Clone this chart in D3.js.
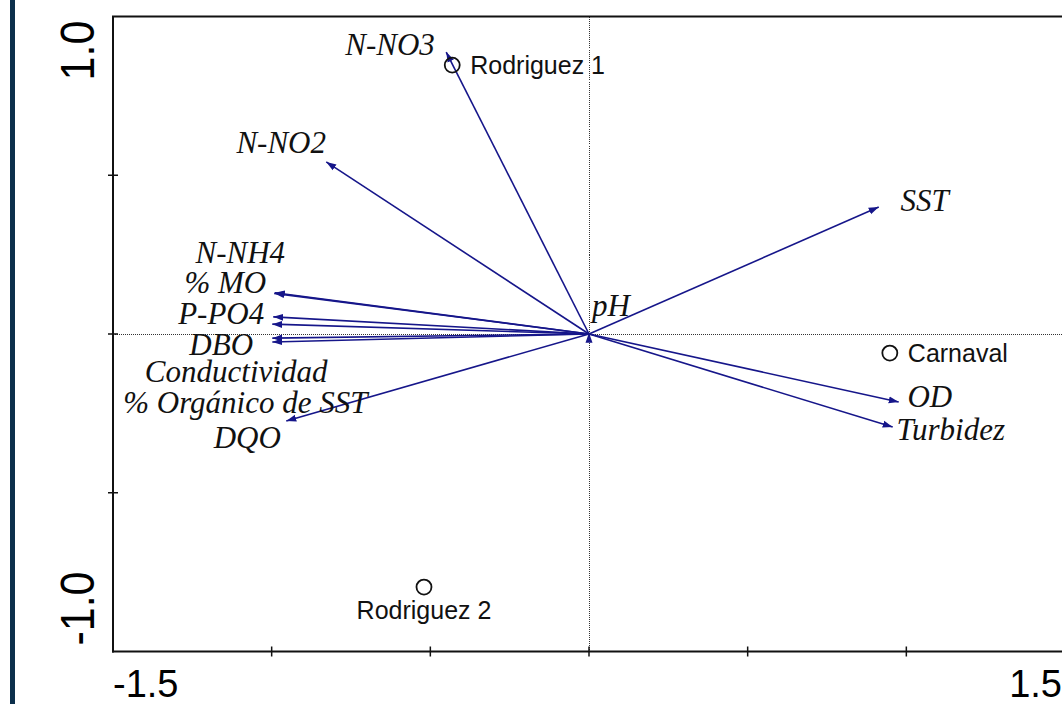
<!DOCTYPE html>
<html>
<head>
<meta charset="utf-8">
<script src="https://cdn.jsdelivr.net/npm/d3@7"></script>
<style>
  html, body { margin: 0; padding: 0; background: #fff; }
  svg { display: block; }
</style>
</head>
<body>
<svg id="chart" width="1062" height="704"></svg>
<script>
// ---- Data (biplot coordinates) ----
const variables = ["N-NO3", "N-NO2", "SST", "pH", "N-NH4", "% MO", "P-PO4", "DBO",
  "Conductividad", "% Orgánico de SST", "DQO", "OD", "Turbidez"];
const varAxis1 = [-0.450, -0.828, 0.913, 0.000, -0.990, -0.992, -0.995, -0.998,
  -0.998, -0.998, -0.954, 0.976, 0.957];
const varAxis2 = [0.888, 0.542, 0.400, 0.004, 0.130, 0.128, 0.054, 0.031,
  -0.013, -0.025, -0.274, -0.214, -0.293];
// label anchor points (data units)
const labelAxis1 = [-0.627, -0.970, 1.058, 0.069, -1.099, -1.146, -1.159, -1.159,
  -1.112, -1.083, -1.077, 1.074, 1.140];
const labelAxis2 = [0.879, 0.570, 0.387, 0.057, 0.224, 0.129, 0.031, -0.066,
  -0.151, -0.249, -0.359, -0.230, -0.334];

const sites = ["Rodriguez 1", "Carnaval", "Rodriguez 2"];
const siteAxis1 = [-0.431, 0.948, -0.520];
const siteAxis2 = [0.847, -0.060, -0.797];
const siteLabelSide = ["right", "right", "below"];

const xTicks = [-1.5, -1.0, -0.5, 0, 0.5, 1.0, 1.5];
const yTicks = [-1.0, -0.5, 0, 0.5, 1.0];
const xTickLabels = ["-1.5", "1.5"];
const yTickLabels = ["1.0", "-1.0"];

// ---- Layout ----
const svg = d3.select("#chart");
const x = d3.scaleLinear().domain([-1.5, 1.5]).range([113, 1065]);
const y = d3.scaleLinear().domain([-1.0, 1.0]).range([651.5, 16.5]);
const arrowColor = "#16168a";

// left decorative bar
svg.append("rect").attr("x", 10).attr("y", 0).attr("width", 5).attr("height", 704)
  .attr("fill", "#0c2f4b");

// dotted zero lines
const zx = Math.round(x(0)) + 0.5, zy = Math.round(y(0)) + 0.5;
svg.append("line").attr("x1", zx).attr("x2", zx).attr("y1", y(1)).attr("y2", y(-1))
  .attr("stroke", "#333").attr("stroke-width", 1).attr("stroke-dasharray", "1,1")
  .attr("shape-rendering", "crispEdges");
svg.append("line").attr("x1", x(-1.5)).attr("x2", x(1.5)).attr("y1", zy).attr("y2", zy)
  .attr("stroke", "#333").attr("stroke-width", 1).attr("stroke-dasharray", "1,1")
  .attr("shape-rendering", "crispEdges");

// frame lines (left, top, bottom)
const frame = svg.append("g").attr("stroke", "#111").attr("stroke-width", 2);
frame.append("line").attr("x1", x(-1.5)).attr("x2", x(-1.5)).attr("y1", y(1)).attr("y2", y(-1) + 1);
frame.append("line").attr("x1", x(-1.5) - 1).attr("x2", x(1.5)).attr("y1", y(1)).attr("y2", y(1));
frame.append("line").attr("x1", x(-1.5) - 1).attr("x2", x(1.5)).attr("y1", y(-1)).attr("y2", y(-1));

// ticks crossing the axes
const tickG = svg.append("g").attr("stroke", "#111").attr("stroke-width", 1.5);
tickG.selectAll(".xt").data(xTicks.filter(d => d > -1.5 && d < 1.5)).join("line")
  .attr("x1", d => x(d)).attr("x2", d => x(d))
  .attr("y1", y(-1) - 5).attr("y2", y(-1) + 5);
tickG.selectAll(".yt").data(yTicks.filter(d => d > -1 && d < 1)).join("line")
  .attr("x1", x(-1.5) - 5).attr("x2", x(-1.5) + 5)
  .attr("y1", d => y(d)).attr("y2", d => y(d));

// tick labels
svg.append("text").attr("x", x(-1.5)).attr("y", 697)
  .attr("font-family", "Liberation Sans, Arial, sans-serif").attr("font-size", 38)
  .attr("text-anchor", "start").attr("fill", "#000").text(xTickLabels[0]);
svg.append("text").attr("x", x(1.5) - 3).attr("y", 697)
  .attr("font-family", "Liberation Sans, Arial, sans-serif").attr("font-size", 38)
  .attr("text-anchor", "end").attr("fill", "#000").text(xTickLabels[1]);

const yLab = [[y(1.0) + 34, yTickLabels[0]], [y(-1.0) - 43, yTickLabels[1]]];
yLab.forEach(([py, t]) => {
  svg.append("text")
    .attr("transform", `translate(94,${py}) rotate(-90) scale(1,1.1)`)
    .attr("font-family", "Liberation Sans, Arial, sans-serif").attr("font-size", 43)
    .attr("text-anchor", "middle").attr("fill", "#000").text(t);
});

// arrow marker
const defs = svg.append("defs");
defs.append("marker").attr("id", "ah").attr("markerUnits", "userSpaceOnUse")
  .attr("viewBox", "0 -4 10 8").attr("refX", 10).attr("refY", 0)
  .attr("markerWidth", 10).attr("markerHeight", 8).attr("orient", "auto")
  .append("path").attr("d", "M0,-3.5L10,0L0,3.5Z").attr("fill", arrowColor);

const vars = variables.map((name, i) => ({
  name, a1: varAxis1[i], a2: varAxis2[i], l1: labelAxis1[i], l2: labelAxis2[i]
}));

svg.append("g").selectAll("line").data(vars).join("line")
  .attr("x1", x(0)).attr("y1", y(0))
  .attr("x2", d => x(d.a1)).attr("y2", d => y(d.a2))
  .attr("stroke", arrowColor).attr("stroke-width", 1.6)
  .attr("marker-end", "url(#ah)");

svg.append("g").selectAll("text").data(vars).join("text")
  .attr("x", d => x(d.l1)).attr("y", d => y(d.l2))
  .attr("text-anchor", "middle")
  .attr("font-family", "Liberation Serif, 'Times New Roman', serif")
  .attr("font-style", "italic").attr("font-size", 31).attr("fill", "#111")
  .text(d => d.name);

// sites
const siteData = sites.map((name, i) => ({ name, a1: siteAxis1[i], a2: siteAxis2[i], side: siteLabelSide[i] }));
const sg = svg.append("g");
sg.selectAll("circle").data(siteData).join("circle")
  .attr("cx", d => x(d.a1)).attr("cy", d => y(d.a2)).attr("r", 7.5)
  .attr("fill", "none").attr("stroke", "#111").attr("stroke-width", 1.8);
sg.selectAll("text").data(siteData).join("text")
  .attr("x", d => d.side === "right" ? x(d.a1) + 18 : x(d.a1))
  .attr("y", d => d.side === "right" ? y(d.a2) + 9 : y(d.a2) + 32)
  .attr("text-anchor", d => d.side === "right" ? "start" : "middle")
  .attr("font-family", "Liberation Sans, Arial, sans-serif").attr("font-size", 25)
  .attr("fill", "#111").text(d => d.name);
</script>
</body>
</html>
